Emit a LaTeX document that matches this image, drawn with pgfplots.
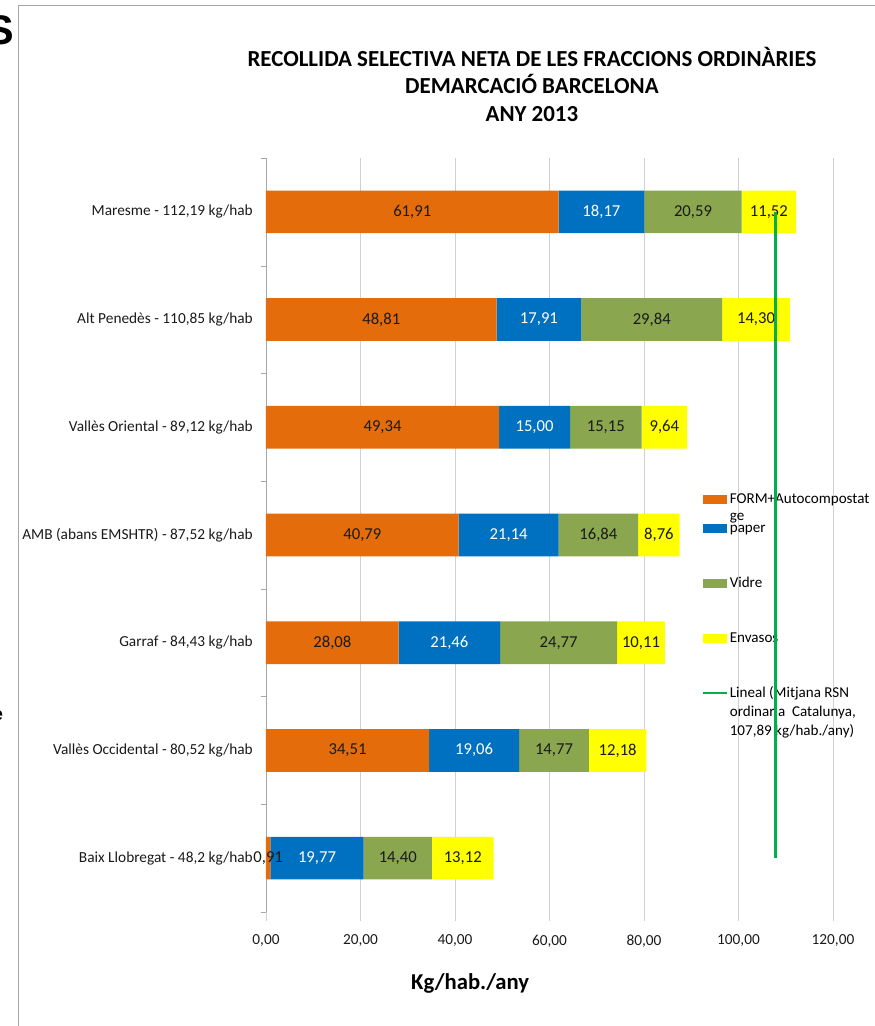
\documentclass[border=0pt]{standalone}
\usepackage{fontspec}
\setmainfont{Carlito}
\setsansfont{Liberation Sans}
\usepackage{pgfplots}
\usepackage{pgfplotstable}
\pgfplotsset{compat=1.18}
\definecolor{cform}{HTML}{E46C0A}
\definecolor{cpaper}{HTML}{0070C0}
\definecolor{cvidre}{HTML}{8AA64E}
\definecolor{cenv}{HTML}{FFFF00}
\definecolor{cline}{HTML}{00B050}
\definecolor{cgrid}{HTML}{D0D0D0}
\definecolor{caxis}{HTML}{A6A6A6}
\definecolor{ctext}{HTML}{1A1A1A}

\pgfplotstableread{
y v lab
0 0.91 0,91
1 34.51 34,51
2 28.08 28,08
3 40.79 40,79
4 49.34 49,34
5 48.81 48,81
6 61.91 61,91
}\tform
\pgfplotstableread{
y v lab
0 19.77 19,77
1 19.06 19,06
2 21.46 21,46
3 21.14 21,14
4 15.00 15,00
5 17.91 17,91
6 18.17 18,17
}\tpaper
\pgfplotstableread{
y v lab
0 14.40 14,40
1 14.77 14,77
2 24.77 24,77
3 16.84 16,84
4 15.15 15,15
5 29.84 29,84
6 20.59 20,59
}\tvidre
\pgfplotstableread{
y v lab
0 13.12 13,12
1 12.18 12,18
2 10.11 10,11
3 8.76 8,76
4 9.64 9,64
5 14.30 14,30
6 11.52 11,52
}\tenv

\pgfplotsset{
  swatch/.style n args={3}{legend image code/.code={%
    \path[draw=none,fill=none] (0pt,-#3) rectangle (18pt,#2);
    \fill[#1,draw=none] (0pt,0.1pt) rectangle (18pt,6.85pt);}},
  lswatch/.style n args={3}{legend image code/.code={%
    \path[draw=none,fill=none] (0pt,-#3) rectangle (18pt,#2);
    \draw[#1,line width=2pt,fill=none] (0pt,3.5pt) -- (18pt,3.5pt);}},
  lbl/.style={nodes near coords={\pgfplotspointmeta},
    point meta=explicit symbolic,
    every node near coord/.append style={anchor=center, text=#1,
      font=\fontsize{12.5}{14}\selectfont, inner sep=0pt}},
}

\begin{document}
\begin{tikzpicture}
\path[use as bounding box] (0,0) rectangle (656.25pt,769.5pt);
\draw[caxis, line width=0.75pt] (13.5pt,0) -- (13.5pt,765pt) -- (656.25pt,765pt);
\begin{scope}
\clip (0,700pt) rectangle (10.5pt,769.5pt);
\node[font=\fontsize{31}{31}\selectfont\bfseries\sffamily, anchor=east, inner sep=0pt] at (11pt,747pt) {S};
\end{scope}
\begin{scope}
\clip (0,200pt) rectangle (2pt,260pt);
\node[font=\fontsize{14}{14}\selectfont\bfseries\sffamily, anchor=east, inner sep=0pt] at (2.5pt,232.5pt) {e};
\end{scope}
\begin{axis}[
  at={(199.5pt,85.5pt)}, anchor=south west,
  scale only axis, width=425.25pt, height=565.5pt,
  xbar stacked, bar width=32pt,
  xmin=0, xmax=120, ymin=-0.5, ymax=6.5,
  axis lines*=left,
  x axis line style={draw=none},
  y axis line style={draw=caxis},
  tick align=outside,
  xtick={0,20,...,120},
  scaled x ticks=false,
  xmajorgrids, major grid style={cgrid},
  major tick length=6.75pt, minor tick length=4pt,
  major x tick style={draw=cgrid},
  ytick={0,...,6},
  major y tick style={draw=none},
  minor ytick={-0.5,0.5,...,6.5},
  minor y tick style={draw=caxis},
  yticklabels={{Baix Llobregat - 48,2 kg/hab},{Vallès Occidental - 80,52 kg/hab},{Garraf - 84,43 kg/hab},{AMB (abans EMSHTR) - 87,52 kg/hab},{Vallès Oriental - 89,12 kg/hab},{Alt Penedès - 110,85 kg/hab},{Maresme - 112,19 kg/hab}},
  yticklabel style={font=\fontsize{11.5}{13}\selectfont, text=ctext, inner sep=0pt, xshift=-3pt},
  xticklabel style={/pgf/number format/fixed, /pgf/number format/fixed zerofill, /pgf/number format/precision=2, /pgf/number format/use comma, /pgf/number format/1000 sep={}, /pgf/number format/assume math mode=true, font=\fontsize{11.5}{13}\selectfont, text=ctext, yshift=-7pt},
  xlabel={Kg/hab./any},
  xlabel style={font=\fontsize{17}{20}\selectfont\bfseries, at={(axis description cs:0.36,0)}, anchor=center, yshift=-53.25pt},
  title={RECOLLIDA SELECTIVA NETA DE LES FRACCIONS ORDINÀRIES\\DEMARCACIÓ BARCELONA\\ANY 2013},
  title style={align=center, font=\fontsize{17.2}{20.6}\selectfont\bfseries, at={(axis description cs:0.469,1)}, anchor=center, yshift=49.5pt},
  legend style={at={(0.7675,0.5592)}, anchor=north west, draw=none, fill=none, inner sep=0pt, outer sep=0pt, row sep=0pt, column sep=-0.5pt, font=\fontsize{11.3}{13.5}\selectfont, cells={anchor=base west, inner sep=0pt}},
]
\addplot[fill=cform, draw=none, swatch={cform}{10pt}{11.75pt}, lbl=ctext] table[x=v,y=y,meta=lab]{\tform};
\addlegendentry{\smash{\vtop{\baselineskip=12.5pt\hbox{FORM+Autocompostat}\hbox{ge}}}}
\addplot[fill=cpaper, draw=none, swatch={cpaper}{10pt}{31.25pt}, lbl=white] table[x=v,y=y,meta=lab]{\tpaper};
\addlegendentry{paper}
\addplot[fill=cvidre, draw=none, swatch={cvidre}{10pt}{31.25pt}, lbl=ctext] table[x=v,y=y,meta=lab]{\tvidre};
\addlegendentry{Vidre}
\addplot[fill=cenv, draw=none, swatch={cenv}{10pt}{31.25pt}, lbl=ctext] table[x=v,y=y,meta=lab]{\tenv};
\addlegendentry{Envasos}
\addlegendimage{lswatch={cline}{10pt}{2pt}}
\addlegendentry{\smash{\vtop{\baselineskip=14.25pt\hbox{Lineal (Mitjana RSN}\hbox{ordinaria\ \ Catalunya,}\hbox{107,89 kg/hab./any)}}}}
\end{axis}
\begin{axis}[
  at={(199.5pt,85.5pt)}, anchor=south west,
  scale only axis, width=425.25pt, height=565.5pt,
  xmin=0, xmax=120, ymin=-0.5, ymax=6.5, hide axis]
\addplot[cline, line width=2pt] coordinates {(107.89,0) (107.89,6)};
\end{axis}
\end{tikzpicture}
\end{document}
